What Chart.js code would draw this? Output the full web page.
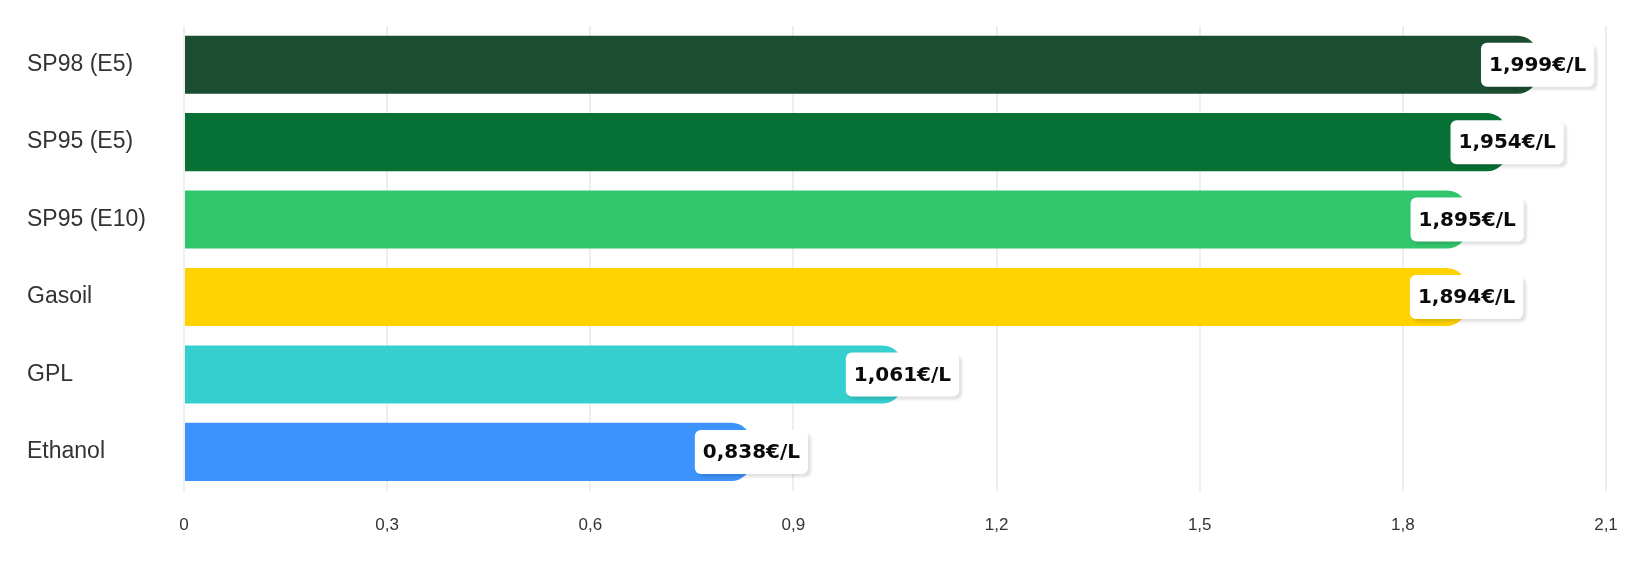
<!DOCTYPE html>
<html lang="fr">
<head>
    <meta charset="UTF-8"/>
    <title>Prix des carburants</title>
    <script src="https://cdn.jsdelivr.net/npm/chart.js"></script>
    <style>
        html, body {
            margin: 0;
            background: #ffffff;
        }

        #wrap {
            width: 1639px;
            height: 565px;
            position: relative;
        }
    </style>
</head>
<body>
<div id="wrap">
    <canvas id="fuelChart"></canvas>
</div>

<script>
    // data
    const fuels = ['SP98 (E5)', 'SP95 (E5)', 'SP95 (E10)', 'Gasoil', 'GPL', 'Ethanol'];
    const prices = [1.999, 1.954, 1.895, 1.894, 1.061, 0.838];
    const xTickLabels = ['0', '0,3', '0,6', '0,9', '1,2', '1,5', '1,8', '2,1'];
    const barColors = ['#1b4e31', '#077035', '#32c66c', '#ffd200', '#36cfcf', '#3d93fc'];

    const fmtPrice = v => v.toFixed(3).replace('.', ',') + '€/L';

    // white price tags centred on the end of each bar
    const priceTags = {
        id: 'priceTags',
        afterDatasetsDraw(chart) {
            const ctx = chart.ctx;
            const meta = chart.getDatasetMeta(0);
            ctx.save();
            ctx.font = 'bold 20px "DejaVu Sans", sans-serif';
            ctx.textAlign = 'center';
            ctx.textBaseline = 'middle';
            meta.data.forEach((bar, i) => {
                const text = fmtPrice(prices[i]);
                const w = ctx.measureText(text).width + 16;
                const h = 44;
                const x = bar.x - w / 2;
                const y = bar.y - h / 2;

                ctx.shadowColor = 'rgba(0, 0, 0, 0.12)';
                ctx.shadowOffsetX = 3;
                ctx.shadowOffsetY = 3;
                ctx.shadowBlur = 3;
                ctx.fillStyle = '#ffffff';
                ctx.beginPath();
                ctx.roundRect(x, y, w, h, 6);
                ctx.fill();

                ctx.shadowColor = 'transparent';
                ctx.fillStyle = '#0a0a0a';
                ctx.fillText(text, bar.x, bar.y + 1);
            });
            ctx.restore();
        }
    };

    new Chart(document.getElementById('fuelChart'), {
        type: 'bar',
        data: {
            labels: fuels,
            datasets: [{
                data: prices,
                backgroundColor: barColors,
                borderWidth: 0,
                borderRadius: 20,
                borderSkipped: 'start',
                barPercentage: 0.75,
                categoryPercentage: 1
            }]
        },
        options: {
            indexAxis: 'y',
            responsive: true,
            maintainAspectRatio: false,
            animation: false,
            layout: {
                padding: {left: 27, top: 26, right: 33, bottom: 4}
            },
            plugins: {
                legend: {display: false},
                tooltip: {enabled: false}
            },
            scales: {
                x: {
                    min: 0,
                    max: 2.1,
                    afterFit(scale) {
                        // let layout padding alone decide the right edge
                        scale.paddingLeft = 0;
                        scale.paddingRight = 0;
                    },
                    ticks: {
                        stepSize: 0.3,
                        padding: 25,
                        color: '#333333',
                        font: {family: '"Liberation Sans", Arial, sans-serif', size: 17},
                        maxRotation: 0,
                        callback: (v, i) => xTickLabels[i]
                    },
                    grid: {
                        color: '#eeeeee',
                        lineWidth: 2,
                        drawTicks: false
                    },
                    border: {display: false}
                },
                y: {
                    afterFit(scale) {
                        scale.width = 157;
                    },
                    ticks: {
                        crossAlign: 'far',
                        padding: 0,
                        color: '#333333',
                        font: {family: '"Liberation Sans", Arial, sans-serif', size: 23}
                    },
                    grid: {display: false},
                    border: {display: false}
                }
            }
        },
        plugins: [priceTags]
    });
</script>
</body>
</html>
